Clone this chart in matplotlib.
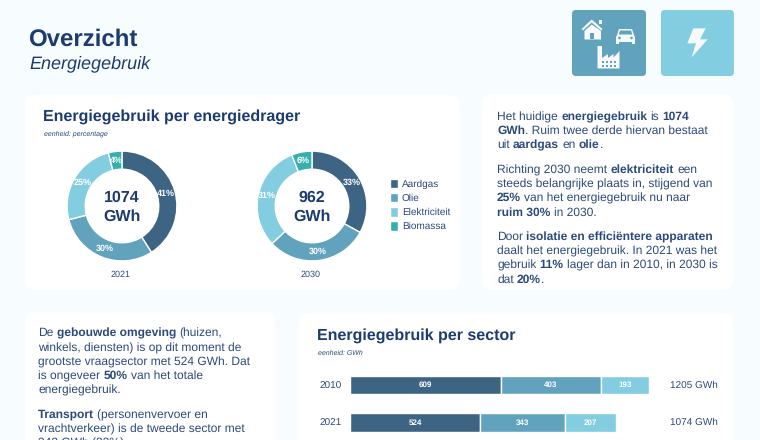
import re
from math import floor
import matplotlib
matplotlib.use("Agg")
from matplotlib import pyplot as plt
from matplotlib.patches import FancyBboxPatch, Polygon, Rectangle, Circle

plt.rcParams['font.family'] = ['Liberation Sans', 'DejaVu Sans']
plt.rcParams['text.hinting'] = 'no_hinting'
plt.rcParams['text.hinting_factor'] = 1

dragers = ['Aardgas', 'Olie', 'Elektriciteit', 'Biomassa']
aandeel_2021 = [41, 30, 25, 4]
aandeel_2030 = [33, 30, 31, 6]
totaal_2021 = 1074
totaal_2030 = 962

bar_years = ['2010', '2021']
gebouwd = [609, 524]
transport = [403, 343]
industrie = [193, 207]
bar_totals = [1205, 1074]

text_right = [
    (116, "Het huidige **energiegebruik** is **1074**"),
    (130, "**GWh**. Ruim twee derde hiervan bestaat"),
    (144, "uit **aardgas** en **olie**."),
    (169, "Richting 2030 neemt **elektriciteit** een"),
    (183, "steeds belangrijke plaats in, stijgend van"),
    (197, "**25%** van het energiegebruik nu naar"),
    (212, "**ruim 30%** in 2030."),
    (236, "Door **isolatie en efficiëntere apparaten**"),
    (250, "daalt het energiegebruik. In 2021 was het"),
    (264, "gebruik **11%** lager dan in 2010, in 2030 is"),
    (279, "dat **20%**."),
]
text_left = [
    (332, "De **gebouwde omgeving** (huizen,"),
    (347, "winkels, diensten) is op dit moment de"),
    (361, "grootste vraagsector met 524 GWh. Dat"),
    (375, "is ongeveer **50%** van het totale"),
    (389, "energiegebruik."),
    (414, "**Transport** (personenvervoer en"),
    (428, "vrachtverkeer) is de tweede sector met"),
    (442, "343 GWh (32%)."),
]

NAVY = '#1c3b6e'
BODY = '#2b4a7a'
DARK = '#3e6484'
MID = '#61a2bd'
LIGHT = '#83cde0'
TEAL = '#35b0ab'
BG = '#f7fdff'

W, H = 760, 440
fig = plt.figure(figsize=(W / 100, H / 100), dpi=100, facecolor=BG)
# background axes in pixel coordinates, y downwards
bg = fig.add_axes([0, 0, 1, 1])
bg.set_xlim(0, W)
bg.set_ylim(H, 0)
bg.axis('off')


def px_axes(x0, y0, x1, y1):
    a = fig.add_axes([x0 / W, 1 - y1 / H, (x1 - x0) / W, (y1 - y0) / H])
    a.patch.set_alpha(0)
    return a


def card(x0, y0, x1, y1, color='white', r=10):
    bg.add_patch(FancyBboxPatch((x0 + r, y0 + r), x1 - x0 - 2 * r, y1 - y0 - 2 * r,
                                boxstyle="round,pad=%d,rounding_size=%d" % (r, r),
                                fc=color, ec='none', clip_on=True))


def rich_line(x, y, s, size=8.55, color=BODY):
    rend = fig.canvas.get_renderer()
    probe = bg.text(0, 0, "a a", fontsize=size)
    w2 = probe.get_window_extent(rend).width
    probe.set_text("a")
    w1 = probe.get_window_extent(rend).width
    probe.remove()
    space = w2 - 2 * w1
    bold = False
    for run in re.split(r'\*\*', s):
        # spaces at the ends of a run don't count in the extent
        stripped = run.strip(' ')
        if run.startswith(' '):
            x += space
        if stripped:
            t = bg.text(x, y + 4, stripped, fontsize=size, color=color, va='baseline',
                        fontweight='bold' if bold else 'normal')
            # agg rounds the bitmap position, so keep the runs of one line on the same baseline
            _, h, d = rend.get_text_width_height_descent(stripped, t.get_fontproperties(), False)
            t.set_y(y + 4 + floor(h) - floor(h - d) - d)
            x += t.get_window_extent(rend).width
        if run.endswith(' ') and stripped:
            x += space
        bold = not bold


def donut(x_c, y_c, values, total, year):
    r = 55
    ax = px_axes(x_c - r - 1, y_c - r - 1, x_c + r + 1, y_c + r + 1)
    wedges, _, autotexts = ax.pie(values, colors=[DARK, MID, LIGHT, TEAL], startangle=90,
                                  counterclock=False, radius=1, autopct='%d%%', pctdistance=0.84,
                                  wedgeprops=dict(width=0.33, edgecolor='white', linewidth=1),
                                  textprops=dict(color='white', fontsize=6.2, fontweight='bold'))
    ax.set_xlim(-1.02, 1.02)
    ax.set_ylim(-1.02, 1.02)
    ax.text(0, 0.16, str(total), ha='center', va='center', color=NAVY, fontsize=11.5, fontweight='bold')
    ax.text(0, -0.19, 'GWh', ha='center', va='center', color=NAVY, fontsize=11.5, fontweight='bold')
    bg.text(x_c - 1, 275, year, ha='center', va='center', color=BODY, fontsize=6.8)
    return ax, wedges


card(25, 95, 459, 290)
card(482, 94, 733, 290)
card(25, 312, 275, 470)
card(299, 313, 733, 470)

bg.text(28.5, 46, 'Overzicht', fontsize=17, fontweight='bold', color=NAVY, va='baseline')
bg.text(29.5, 68, 'Energiegebruik', fontsize=12.8, style='italic', color=NAVY, va='baseline')
bg.text(43, 121, 'Energiegebruik per energiedrager', fontsize=11.4, fontweight='bold', color=NAVY,
        va='baseline')
bg.text(44, 136, 'eenheid: percentage', fontsize=5.2, style='italic', color=BODY, va='baseline')
bg.text(317, 340, 'Energiegebruik per sector', fontsize=11.4, fontweight='bold', color=NAVY,
        va='baseline')
bg.text(318, 355, 'eenheid: GWh', fontsize=5.2, style='italic', color=BODY, va='baseline')

for y, s in text_right:
    rich_line(497, y, s)
for y, s in text_left:
    rich_line(38, y, s)

# icon tiles
card(572, 10, 646, 76, color=MID, r=4)
card(661, 10, 734, 76, color=LIGHT, r=4)
ICON = '#f7f9fa'
# house
bg.add_patch(Polygon([(581.5, 29), (591.7, 19.5), (602.5, 29), (601, 30.5), (591.7, 22.5), (583, 30.5)], fc=ICON))
bg.add_patch(Polygon([(584.5, 31), (591.7, 24.5), (601, 31), (601, 39.5), (584.5, 39.5)], fc=ICON))
bg.add_patch(Rectangle((590, 33), 3.5, 6.5, fc=MID))
bg.add_patch(Rectangle((599, 20.5), 3, 3.5, fc=ICON))
# car
bg.add_patch(Polygon([(619, 29), (632, 29), (634, 35), (635, 37), (635, 44), (632, 44), (632, 42),
                      (619, 42), (619, 44), (616, 44), (616, 37), (617, 35)], fc=ICON))
bg.add_patch(Polygon([(620, 30.5), (631, 30.5), (632.3, 34.5), (618.7, 34.5)], fc=MID))
bg.add_patch(Circle((619.5, 38), 1.3, fc=MID))
bg.add_patch(Circle((631.5, 38), 1.3, fc=MID))
# factory
bg.add_patch(Polygon([(597.5, 46), (602, 46), (602, 58), (608, 54), (608, 58), (613.5, 54), (613.5, 57.5),
                      (619.5, 51), (619.5, 68.5), (597.5, 68.5)], fc=ICON))
for wx in (602, 606, 610, 614):
    for wy in (61, 65):
        bg.add_patch(Rectangle((wx, wy), 2, 2, fc=MID))
# bolt
bolt = [(460, 85), (497, 85), (480, 118), (503, 118), (455, 172), (468, 130), (442, 130)]
bg.add_patch(Polygon([(540 + a / 3, b / 3) for a, b in bolt], fc=ICON))

ax1, wedges = donut(122, 206, aandeel_2021, totaal_2021, '2021')
ax2, _ = donut(312, 206, aandeel_2030, totaal_2030, '2030')
fig.legend(wedges, dragers, loc='upper left', bbox_to_anchor=(390 / W, 1 - 178.5 / H), frameon=False,
           fontsize=7, labelcolor=BODY, handlelength=0.82, handleheight=1.17, handletextpad=0.41,
           labelspacing=0.4, borderaxespad=0, borderpad=0)

# stacked bars
px_per_gwh = 0.248
bar_ax = px_axes(350, 366, 733, 440)
bar_ax.set_xlim(0, 383 / px_per_gwh)
bar_ax.set_ylim((440 - 385) / 37.7, -19 / 37.7)
left = [0, 0]
for vals, col in [(gebouwd, DARK), (transport, MID), (industrie, LIGHT)]:
    bars = bar_ax.barh(range(len(vals)), vals, left=left, height=0.5, color=col,
                       edgecolor='white', linewidth=1)
    bar_ax.bar_label(bars, labels=[str(v) for v in vals], label_type='center', color='white',
                     fontsize=6, fontweight='bold')
    left = [a + b for a, b in zip(left, vals)]
for i, tot in enumerate(bar_totals):
    bar_ax.text(1290, i, '%d GWh' % tot, va='center', color=BODY, fontsize=7)
bar_ax.set_yticks(range(len(bar_years)), bar_years, fontsize=7, color=BODY)
bar_ax.tick_params(axis='y', length=0, pad=6)
bar_ax.xaxis.set_visible(False)
for sp in bar_ax.spines.values():
    sp.set_visible(False)

fig.savefig('out.png', dpi=100, facecolor=BG)
